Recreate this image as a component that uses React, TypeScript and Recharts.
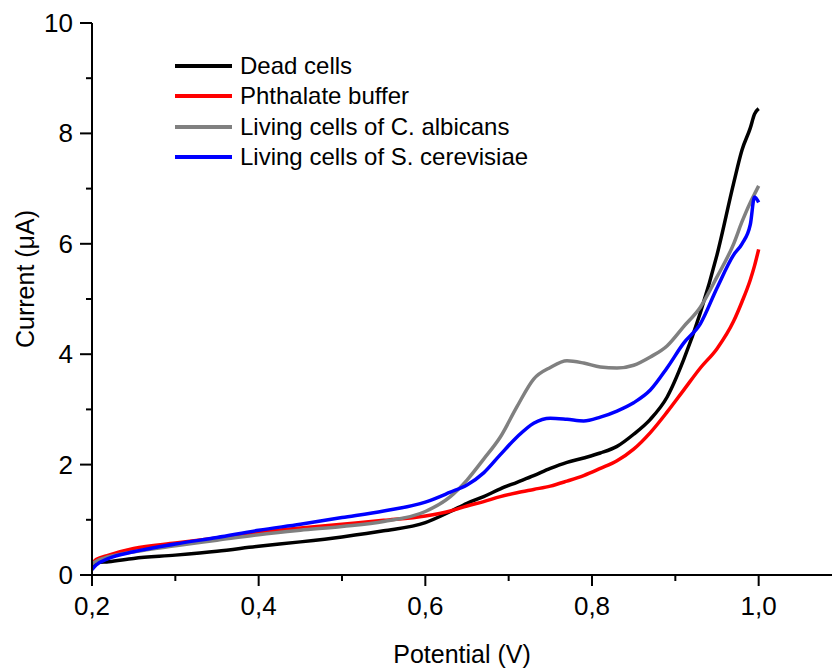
import { LineChart, Line, XAxis, YAxis } from "recharts";

const potentials = [
  0.2, 0.205, 0.22, 0.25, 0.3, 0.35, 0.4, 0.45, 0.5, 0.55, 0.6, 0.63, 0.65,
  0.67, 0.69, 0.71, 0.73, 0.75, 0.77, 0.79, 0.81, 0.83, 0.85, 0.87, 0.89, 0.91,
  0.93, 0.95, 0.97, 0.98, 0.99, 0.995, 1.0,
];

const deadCells = [
  0.18, 0.22, 0.24, 0.3, 0.36, 0.43, 0.52, 0.6, 0.69, 0.8, 0.95, 1.15, 1.3,
  1.42, 1.56, 1.68, 1.8, 1.93, 2.04, 2.12, 2.21, 2.33, 2.55, 2.82, 3.22, 3.9,
  4.75, 5.8, 7.1, 7.7, 8.1, 8.35, 8.45,
];

const phthalate = [
  0.2, 0.28, 0.36, 0.48, 0.58, 0.67, 0.77, 0.85, 0.92, 0.99, 1.07, 1.16, 1.25,
  1.33, 1.42, 1.49, 1.55, 1.61, 1.7, 1.8, 1.93, 2.07, 2.28, 2.58, 2.95, 3.35,
  3.75, 4.1, 4.6, 4.95, 5.35, 5.6, 5.9,
];

const albicans = [
  0.2, 0.25, 0.33, 0.42, 0.53, 0.63, 0.73, 0.81, 0.88, 0.97, 1.15, 1.42, 1.72,
  2.1, 2.5, 3.05, 3.55, 3.76, 3.88, 3.84, 3.77, 3.75, 3.8, 3.95, 4.15, 4.5,
  4.85, 5.4, 6.0, 6.4, 6.75, 6.9, 7.05,
];

const cerevisiae = [
  0.1, 0.18, 0.3, 0.42, 0.56, 0.68, 0.81, 0.92, 1.04, 1.16, 1.32, 1.5, 1.63,
  1.85, 2.18, 2.5, 2.75, 2.84, 2.82, 2.79, 2.86, 2.97, 3.12, 3.35, 3.75, 4.2,
  4.55, 5.2, 5.8, 6.0, 6.35, 6.85, 6.75,
];

const xTicks = [0.2, 0.3, 0.4, 0.5, 0.6, 0.7, 0.8, 0.9, 1.0];
const yTicks = [0, 1, 2, 3, 4, 5, 6, 7, 8, 9, 10];

const series = [
  { key: "dead", name: "Dead cells", color: "#000000" },
  { key: "buffer", name: "Phthalate buffer", color: "#ff0000" },
  { key: "albicans", name: "Living cells of C. albicans", color: "#808080" },
  { key: "cerevisiae", name: "Living cells of S. cerevisiae", color: "#0000ff" },
];

const data = potentials.map((p, i) => ({
  p,
  dead: deadCells[i],
  buffer: phthalate[i],
  albicans: albicans[i],
  cerevisiae: cerevisiae[i],
}));

const FONT = "'Liberation Sans', Arial, sans-serif";

const XTick = (props: any) => {
  const { x, y, payload } = props;
  const major = Math.round(payload.value * 10) % 2 === 0;
  return (
    <g>
      <line x1={x} y1={y} x2={x} y2={y + (major ? 11 : 6)} stroke="#000" strokeWidth={2} />
      {major && (
        <text x={x} y={y + 40} textAnchor="middle" fontSize={26} fill="#000" fontFamily={FONT}>
          {payload.value.toFixed(1).replace(".", ",")}
        </text>
      )}
    </g>
  );
};

const YTick = (props: any) => {
  const { x, y, payload } = props;
  const major = payload.value % 2 === 0;
  return (
    <g>
      <line x1={x} y1={y} x2={x - (major ? 12 : 6)} y2={y} stroke="#000" strokeWidth={2} />
      {major && (
        <text x={x - 19} y={y + 9} textAnchor="end" fontSize={26} fill="#000" fontFamily={FONT}>
          {payload.value}
        </text>
      )}
    </g>
  );
};

// legend drawn as an overlay so it does not shrink the plot area
const LegendBox = () => (
  <div style={{ position: "absolute", left: 175, top: 51, fontFamily: FONT }}>
    {series.map((s) => (
      <div key={s.key} style={{ display: "flex", alignItems: "center", height: 30.3 }}>
        <div style={{ width: 57, height: 4, background: s.color, marginRight: 8 }} />
        <span style={{ fontSize: 24, lineHeight: "30px", color: "#000", whiteSpace: "nowrap" }}>
          {s.name}
        </span>
      </div>
    ))}
  </div>
);

export default function App() {
  return (
    <div style={{ position: "absolute", left: 0, top: 0, width: 833, height: 671, background: "#fff", fontFamily: FONT }}>
      <LineChart
        width={833}
        height={671}
        data={data}
        margin={{ top: 23, right: 1, left: 0, bottom: 0 }}
      >
        <XAxis
          dataKey="p"
          type="number"
          domain={[0.2, 1.088]}
          ticks={xTicks}
          allowDataOverflow
          height={96}
          tickSize={0}
          tickMargin={0}
          tickLine={false}
          axisLine={{ stroke: "#000", strokeWidth: 2 }}
          tick={<XTick />}
          interval={0}
          label={{
            value: "Potential (V)",
            position: "insideBottom",
            offset: 8,
            fontSize: 25,
            fill: "#000",
            fontFamily: FONT,
          }}
        />
        <YAxis
          type="number"
          domain={[0, 10]}
          ticks={yTicks}
          width={92}
          tickSize={0}
          tickMargin={0}
          tickLine={false}
          axisLine={{ stroke: "#000", strokeWidth: 2 }}
          tick={<YTick />}
          interval={0}
          label={{
            content: (props: any) => {
              const vb = props.viewBox;
              const cx = vb.x + 25;
              const cy = vb.y + vb.height / 2 - 20;
              return (
                <text
                  x={cx}
                  y={cy}
                  transform={`rotate(-90 ${cx} ${cy})`}
                  textAnchor="middle"
                  dominantBaseline="central"
                  fontSize={25}
                  fill="#000"
                  fontFamily={FONT}
                >
                  Current (μA)
                </text>
              );
            },
          }}
        />
        {series.map((s) => (
          <Line
            key={s.key}
            dataKey={s.key}
            name={s.name}
            type="monotone"
            stroke={s.color}
            strokeWidth={3.5}
            dot={false}
            activeDot={false}
            isAnimationActive={false}
          />
        ))}
      </LineChart>
      <LegendBox />
    </div>
  );
}
